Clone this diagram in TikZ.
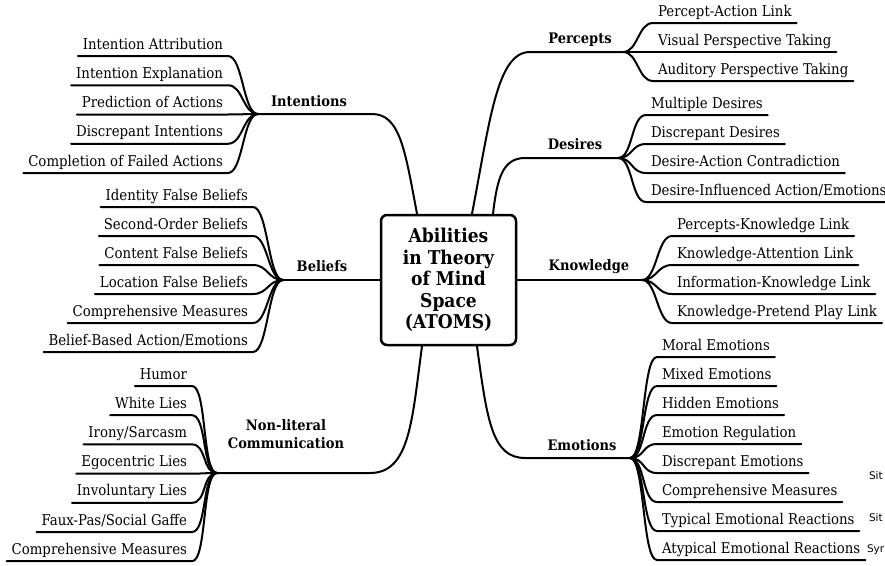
\documentclass[tikz,border=0pt]{standalone}
\usepackage{fontspec}
\setmainfont{DejaVu Serif}[FakeStretch=0.9]
\setsansfont{DejaVu Sans}

\begin{document}
\begin{tikzpicture}[x=1pt,y=-1pt,line width=2pt,line cap=round,
  root node/.style={draw,rounded corners=6pt,line width=2.5pt,align=center,
    minimum width=135pt,minimum height=130pt,
    font=\fontsize{19}{21.6}\selectfont\bfseries},
  topic node/.style={anchor=base,align=center,
    font=\fontsize{14.5}{18}\selectfont\bfseries},
  leaf node/.style={font=\fontsize{14.8}{17}\selectfont,inner xsep=4pt,
    inner ysep=2.5pt,text height=10.5pt,text depth=3.5pt},
  right leaf/.style={leaf node,anchor=south west},
  left leaf/.style={leaf node,anchor=south east},
  twig/.style={out=#1,in=180+#1,distance=15pt},
  side note/.style={font=\sffamily\fontsize{10.5}{11}\selectfont,anchor=west,inner sep=0pt}]
  \useasboundingbox (0,0) rectangle (885,565);

  \node[root node] (root) at (448.5,280) {Abilities\\in Theory\\of Mind\\Space\\(ATOMS)};

  % hubs where the leaves meet
  \coordinate (int) at (258,114);
  \coordinate (bel) at (283,280);
  \coordinate (nlc) at (217,473);
  \coordinate (per) at (623,52);
  \coordinate (des) at (618,158);
  \coordinate (kno) at (642,280);
  \coordinate (emo) at (630,458);

  % main branches
  \draw ([xshift=-31.5pt]root.north) .. controls (405,150) and (400,114) .. (372,114) -- (int);
  \draw ([xshift=23.5pt]root.north) .. controls (490,120) and (497,52) .. (530,52) -- (per);
  \draw ([xshift=44.5pt]root.north) .. controls (497,180) and (502,158) .. (525,158) -- (des);
  \draw (root.west) -- (bel);
  \draw (root.east) -- (kno);
  \draw ([xshift=-26.5pt]root.south) .. controls (412,420) and (410,473) .. (370,473) -- (nlc);
  \draw ([xshift=28.5pt]root.south) .. controls (487,420) and (492,458) .. (525,458) -- (emo);

  \node[topic node] (intl) at (309,106) {Intentions};
  \node[topic node] (bell) at (322,271) {Beliefs};
  \node[topic node] (nlcl) at (286,448) {Non-literal\\Communication};
  \node[topic node] (perl) at (580,43) {Percepts};
  \node[topic node] (desl) at (575,149) {Desires};
  \node[topic node] (knol) at (589,270) {Knowledge};
  \node[topic node] (emol) at (582,450) {Emotions};

  % left leaves
  \foreach \txt [count=\i] in {Intention Attribution, Intention Explanation,
      Prediction of Actions, Discrepant Intentions, Completion of Failed Actions}{
    \node[left leaf] (int\i) at (228,{56+29.25*(\i-1)}) {\txt};
    \draw (int) to[twig=180] (int\i.south east) -- (int\i.south west);
  }
  \foreach \txt [count=\i] in {Identity False Beliefs, Second-Order Beliefs,
      Content False Beliefs, Location False Beliefs, Comprehensive Measures,
      Belief-Based Action/Emotions}{
    \node[left leaf] (bel\i) at (253,{207+29*(\i-1)}) {\txt};
    \draw (bel) to[twig=180] (bel\i.south east) -- (bel\i.south west);
  }
  \foreach \txt [count=\i] in {Humor, White Lies, Irony/Sarcasm, Egocentric Lies,
      Involuntary Lies, Faux-Pas/Social Gaffe, Comprehensive Measures}{
    \node[left leaf] (nlc\i) at (192,{386+29.2*(\i-1)}) {\txt};
    \draw (nlc) to[twig=180] (nlc\i.south east) -- (nlc\i.south west);
  }

  % right leaves
  \foreach \txt [count=\i] in {Percept-Action Link, Visual Perspective Taking,
      Auditory Perspective Taking}{
    \node[right leaf] (per\i) at (653,{23+29*(\i-1)}) {\txt};
    \draw (per) to[twig=0] (per\i.south west) -- (per\i.south east);
  }
  \foreach \txt [count=\i] in {Multiple Desires, Discrepant Desires,
      Desire-Action Contradiction, Desire-Influenced Action/Emotions}{
    \node[right leaf] (des\i) at (646,{115+29*(\i-1)}) {\txt};
    \draw (des) to[twig=0] (des\i.south west) -- (des\i.south east);
  }
  \foreach \txt [count=\i] in {Percepts-Knowledge Link, Knowledge-Attention Link,
      Information-Knowledge Link, Knowledge-Pretend Play Link}{
    \node[right leaf] (kno\i) at (672,{236+29*(\i-1)}) {\txt};
    \draw (kno) to[twig=0] (kno\i.south west) -- (kno\i.south east);
  }
  \foreach \txt [count=\i] in {Moral Emotions, Mixed Emotions, Hidden Emotions,
      Emotion Regulation, Discrepant Emotions, Comprehensive Measures,
      Typical Emotional Reactions, Atypical Emotional Reactions}{
    \node[right leaf] (emo\i) at (657,{357+29*(\i-1)}) {\txt};
    \draw (emo) to[twig=0] (emo\i.south west) -- (emo\i.south east);
  }

  % cut-off notes at the right edge
  \node[side note] (sit1) at (868,476) {Sit};
  \node[side note] (sit2) at (868,518) {Sit};
  \node[side note] (syr) at (866,550) {Syr};
\end{tikzpicture}
\end{document}
